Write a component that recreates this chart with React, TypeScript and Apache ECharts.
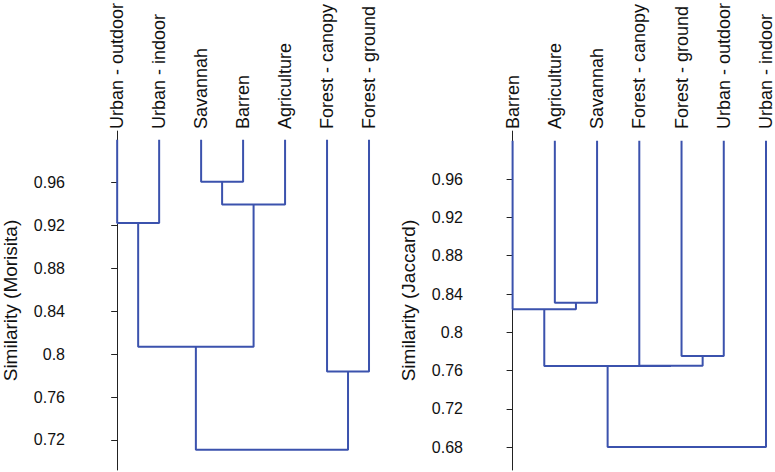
import React, { useEffect, useRef } from "react";
import * as echarts from "echarts";

// ---- Data ----
const leftLeaves = ["Urban - outdoor", "Urban - indoor", "Savannah", "Barren", "Agriculture", "Forest - canopy", "Forest - ground"];
// merges: [leftNode, rightNode, similarity]; nodes 0..6 are leaves, 7+ are merges in order
const leftMerges: [number, number, number][] = [
  [0, 1, 0.9225],
  [2, 3, 0.961],
  [8, 4, 0.9397],
  [7, 9, 0.807],
  [5, 6, 0.784],
  [10, 11, 0.711],
];
const leftTicks = [0.72, 0.76, 0.8, 0.84, 0.88, 0.92, 0.96];
const leftTitle = "Similarity (Morisita)";

const rightLeaves = ["Barren", "Agriculture", "Savannah", "Forest - canopy", "Forest - ground", "Urban - outdoor", "Urban - indoor"];
const rightMerges: [number, number, number][] = [
  [1, 2, 0.831],
  [0, 7, 0.824],
  [4, 5, 0.7753],
  [3, 9, 0.765],
  [8, 10, 0.7648],
  [11, 6, 0.6803],
];
const rightTicks = [0.68, 0.72, 0.76, 0.8, 0.84, 0.88, 0.92, 0.96];
const rightTitle = "Similarity (Jaccard)";
const leafHeight = 1.0;

const LINE_COLOR = "#3b52ad";
const FONT = "Liberation Sans, Arial, Helvetica, sans-serif";

function buildSeries(leaves: string[], merges: [number, number, number][], axisIndex: number) {
  const xs: number[] = leaves.map((_, i) => i);
  const hs: number[] = leaves.map(() => leafHeight);
  const series: any[] = [];
  merges.forEach(([a, b, h]) => {
    const xa = xs[a], xb = xs[b];
    series.push({
      type: "line",
      xAxisIndex: axisIndex,
      yAxisIndex: axisIndex,
      symbol: "none",
      silent: true,
      lineStyle: { color: LINE_COLOR, width: 2 },
      data: [[xa, hs[a]], [xa, h], [xb, h], [xb, hs[b]]],
    });
    xs.push((xa + xb) / 2);
    hs.push(h);
  });
  return series;
}

export default function App() {
  const ref = useRef<HTMLDivElement>(null);
  useEffect(() => {
    if (!ref.current) return;
    const chart = echarts.init(ref.current, null, { renderer: "svg" });
    const mkX = (leaves: string[], gridIndex: number, min: number, max: number) => ({
      type: "value",
      gridIndex,
      position: "top",
      min,
      max,
      axisLine: { show: false },
      axisTick: { show: false },
      splitLine: { show: false },
      axisLabel: {
        customValues: leaves.map((_, i) => i),
        formatter: (v: number) => leaves[Math.round(v)],
        rotate: -90,
        fontSize: 18,
        color: "#111",
        fontFamily: FONT,
        margin: 2,
      },
    });
    const mkY = (ticks: number[], gridIndex: number, min: number, max: number, title: string) => ({
      type: "value",
      gridIndex,
      min,
      max,
      name: title,
      nameLocation: "middle",
      nameGap: 56,
      nameTextStyle: { fontSize: 19, color: "#111", fontFamily: FONT },
      axisLine: { show: true, lineStyle: { color: "#222", width: 1 } },
      axisTick: { show: true, length: 6, customValues: ticks, lineStyle: { color: "#222" } },
      splitLine: { show: false },
      axisLabel: {
        customValues: ticks,
        fontSize: 16,
        color: "#111",
        fontFamily: FONT,
        margin: 11,
        formatter: (v: number) => String(v),
      },
    });
    chart.setOption({
      animation: false,
      backgroundColor: "#fff",
      grid: [
        { left: 72, top: 131, width: 318, bottom: 2 },
        { left: 474, top: 131, width: 297, bottom: 2 },
      ],
      xAxis: [mkX(leftLeaves, 0, -0.981, 6.5), mkX(rightLeaves, 1, -0.914, 6.1)],
      yAxis: [mkY(leftTicks, 0, 0.692, 1.0082, leftTitle), mkY(rightTicks, 1, 0.6563, 1.0101, rightTitle)],
      series: [...buildSeries(leftLeaves, leftMerges, 0), ...buildSeries(rightLeaves, rightMerges, 1)],
    });
    return () => chart.dispose();
  }, []);
  return <div ref={ref} style={{ position: "fixed", left: 0, top: 0, width: 775, height: 472 }} />;
}
